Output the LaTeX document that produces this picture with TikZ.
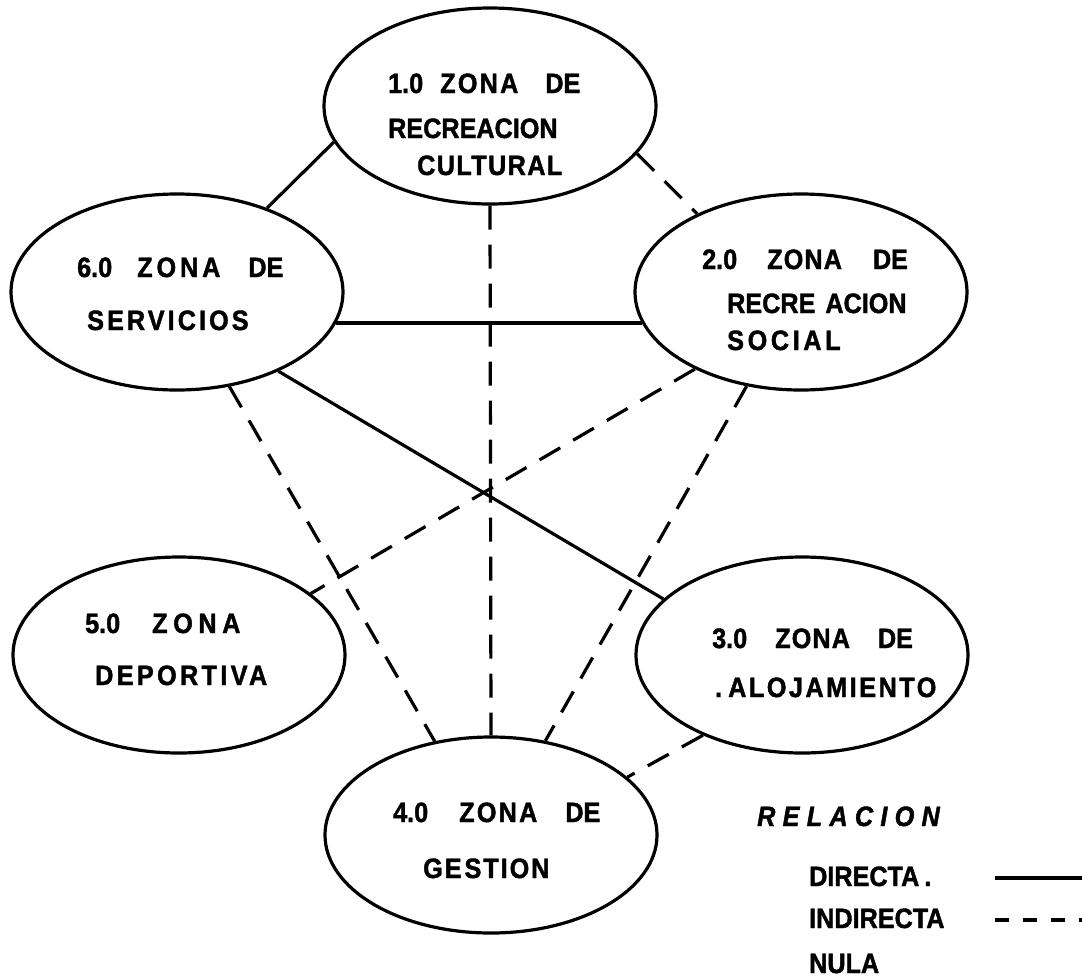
\documentclass[tikz,border=0pt]{standalone}
\usepackage{fontspec}
\setmainfont{Liberation Sans}[BoldFeatures={FakeStretch=0.9,FakeBold=1.5},BoldItalicFeatures={FakeStretch=0.9,FakeBold=1.5}]
\usetikzlibrary{shapes.geometric}
\newcommand\zsp[2]{{\addfontfeatures{LetterSpace=#1}#2}}
\begin{document}
\begin{tikzpicture}[x=1pt,y=-1pt]
\tikzset{
    zonaEllipse/.style={ellipse,draw=black,line width=3.2pt,minimum width=332pt,minimum height=196pt,inner sep=0pt},
    zonaText/.style={anchor=base west,inner sep=0pt,align=left,font=\bfseries\fontsize{28}{45}\selectfont},
    relDirecta/.style={line width=3.2pt},
    relIndirecta/.style={line width=3.2pt,dash pattern=on 24pt off 15pt},
}
\useasboundingbox (0,0) rectangle (1082,978);

\node[zonaEllipse] (z1) at (490,106) {};
\node[zonaEllipse] (z2) at (801,292) {};
\node[zonaEllipse] (z3) at (802,655) {};
\node[zonaEllipse] (z4) at (491,835) {};
\node[zonaEllipse] (z5) at (179,655) {};
\node[zonaEllipse] (z6) at (177,292) {};

% textos (base = ultima linea)
\node[zonaText] (t1) at (388,175) {1.0\hspace{17pt}\zsp{8}{ZONA}\hspace{27pt}DE\\RECREACION\\[-8pt]\hspace*{29pt}\zsp{5}{CULTURAL}};
\node[zonaText] (t2) at (702,350) {2.0\hspace{30pt}\zsp{4}{ZONA}\hspace{31pt}DE\\[-1pt]\hspace*{25pt}RECRE\hspace{10pt}ACION\\[-8pt]\hspace*{25pt}\zsp{13}{SOCIAL}};
\node[zonaText] (t3) at (712,697) {3.0\hspace{28pt}\zsp{4}{ZONA}\hspace{28pt}DE\\[4pt]\hspace*{3pt}.\hspace{6pt}\zsp{9}{ALOJAMIENTO}};
\node[zonaText] (t4) at (393,878) {4.0\hspace{31pt}\zsp{8}{ZONA}\hspace{28pt}DE\\[11pt]\hspace*{30pt}\zsp{7}{GE\hspace{3pt}STION}};
\node[zonaText] (t5) at (85,685) {5.0\hspace{32pt}\zsp{20}{ZONA}\\[7pt]\hspace*{10pt}\zsp{12}{DEPORTIVA}};
\node[zonaText] (t6) at (77,330) {6.0\hspace{25pt}\zsp{14}{ZONA}\hspace{28pt}DE\\[8pt]\hspace*{10pt}\zsp{11}{SERVICIOS}};

% relaciones
\draw[relDirecta] (z1.193) -- (z6.43);
\draw[relIndirecta] (z1.-18) -- (z2.143);
\draw[relIndirecta] (z1.south) -- (z4.north);
\draw[relDirecta] (z6.-11) -- (z2.191);
\draw[relDirecta] (z6.-38) -- (z3.158);
\draw[relIndirecta] (z6.-61) -- (z4.121);
\draw[relIndirecta] (z2.216) -- (z5.25);
\draw[relIndirecta] (z2.240) -- (z4.60);
\draw[relIndirecta] (z3.219) -- (z4.23);

% leyenda
\node[zonaText,font=\bfseries\itshape\fontsize{28}{30}\selectfont] (rel) at (757,826) {\zsp{26}{RELACION}};
\node[zonaText] (ldir) at (809,886) {DIRECTA\hspace{5pt}.};
\node[zonaText] (lind) at (809,928) {INDIRECTA};
\node[zonaText] (lnul) at (809,973) {NULA};
\coordinate (sdir) at (995,878);
\coordinate (edir) at (1090,878);
\coordinate (sind) at (995,920);
\coordinate (eind) at (1090,920);
\draw[relDirecta] (sdir) -- (edir);
\draw[relIndirecta,dash pattern=on 14pt off 14pt] (sind) -- (eind);
\end{tikzpicture}
\end{document}
